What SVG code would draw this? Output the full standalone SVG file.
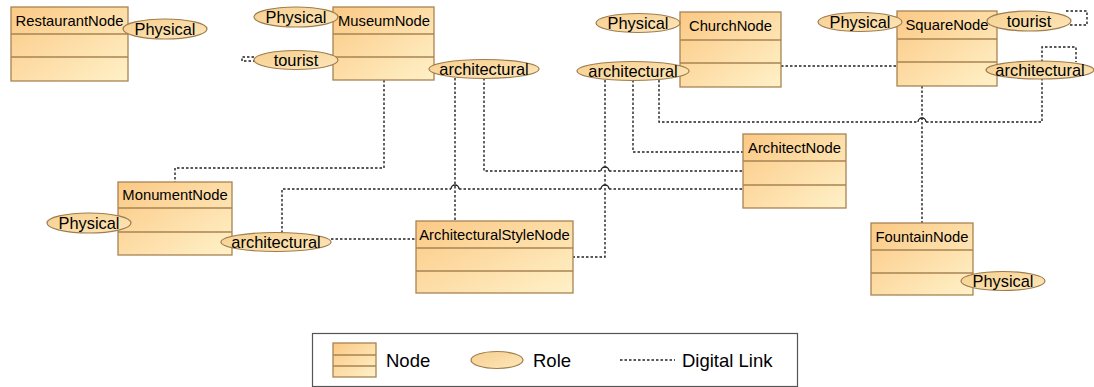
<svg xmlns="http://www.w3.org/2000/svg" width="1094" height="387" viewBox="0 0 1094 387">
  <defs>
    <linearGradient id="nodeFill" x1="0" y1="0" x2="1" y2="1">
      <stop offset="0" stop-color="#fbc985"/>
      <stop offset="1" stop-color="#fff1c8"/>
    </linearGradient>
    <linearGradient id="roleFill" x1="0" y1="0" x2="1" y2="1">
      <stop offset="0" stop-color="#f6cf8e"/>
      <stop offset="1" stop-color="#fde7bb"/>
    </linearGradient>
  </defs>
  <style>
    .box { fill: url(#nodeFill); stroke: #a88352; stroke-width: 1.3; }
    .div { stroke: #a88352; stroke-width: 1.3; }
    .role { fill: url(#roleFill); stroke: #9f7c4c; stroke-width: 1.2; }
    .name { font-family: "Liberation Sans", Arial, sans-serif; font-size: 14.8px; fill: #000; text-anchor: middle; }
    .rl { font-family: "Liberation Sans", Arial, sans-serif; font-size: 16.4px; fill: #000; text-anchor: middle; }
    .lg { font-family: "Liberation Sans", Arial, sans-serif; font-size: 18.5px; fill: #000; }
    .link { fill: none; stroke: #222; stroke-width: 1.4; stroke-dasharray: 2.5 2; }
    .hop { fill: none; stroke: #222; stroke-width: 1.3; }
  </style>
  <rect width="1094" height="387" fill="#ffffff"/>

  <!-- digital links -->
  <g id="connectors">
    <!-- tourist self loops -->
    <path class="link" d="M254,57 H242 V61 H254"/>
    <path class="link" d="M1066,11 H1087 V25 H1069"/>
    <path class="link" d="M1042,62 V47 H1076 V62"/>
    <!-- Museum to Monument -->
    <path class="link" d="M384,80 V168 H175 V182"/>
    <!-- Museum architectural to ArchitecturalStyleNode -->
    <path class="link" d="M455,78 V221"/>
    <!-- Museum architectural to ArchitectNode -->
    <path class="link" d="M484,78 V171 H601 M609,171 H743"/>
    <!-- Monument architectural to ArchitectNode -->
    <path class="link" d="M282,233 V189 H451 M459,189 H601 M609,189 H743"/>
    <!-- Monument architectural to ArchitecturalStyleNode -->
    <path class="link" d="M331,239 H416"/>
    <!-- Church architectural to ArchitecturalStyleNode -->
    <path class="link" d="M605,80 V257 H573"/>
    <!-- Church architectural to ArchitectNode -->
    <path class="link" d="M633,80 V152 H743"/>
    <!-- Church architectural to Square architectural -->
    <path class="link" d="M659,80 V122 H918 M926,122 H1042 V79"/>
    <!-- Church to Square -->
    <path class="link" d="M781,66 H897"/>
    <!-- Square to Fountain -->
    <path class="link" d="M922,86 V223"/>
    <!-- line jumps at crossings -->
    <path class="hop" d="M601,171 A4,4 0 0 1 609,171"/>
    <path class="hop" d="M451,189 A4,4 0 0 1 459,189"/>
    <path class="hop" d="M601,189 A4,4 0 0 1 609,189"/>
    <path class="hop" d="M918,122 A4,4 0 0 1 926,122"/>
  </g>

  <g id="RestaurantNode">
    <rect class="box" x="11" y="7" width="117" height="74"/>
    <line class="div" x1="11" y1="34" x2="128" y2="34"/>
    <line class="div" x1="11" y1="57" x2="128" y2="57"/>
    <text class="name" x="69.5" y="26">RestaurantNode</text>
    <ellipse class="role" cx="165" cy="29" rx="42" ry="10"/>
    <text class="rl" x="165" y="35">Physical</text>
  </g>

  <g id="MuseumNode">
    <rect class="box" x="333" y="7" width="101" height="73"/>
    <line class="div" x1="333" y1="34" x2="434" y2="34"/>
    <line class="div" x1="333" y1="57" x2="434" y2="57"/>
    <text class="name" x="384" y="26">MuseumNode</text>
    <ellipse class="role" cx="296" cy="17" rx="42" ry="10"/>
    <text class="rl" x="296" y="23">Physical</text>
    <ellipse class="role" cx="296" cy="60" rx="42" ry="9.5"/>
    <text class="rl" x="296" y="66">tourist</text>
    <ellipse class="role" cx="484" cy="69" rx="55" ry="9.5"/>
    <text class="rl" x="484" y="75">architectural</text>
  </g>

  <g id="ChurchNode">
    <rect class="box" x="680" y="12" width="101" height="75"/>
    <line class="div" x1="680" y1="40" x2="781" y2="40"/>
    <line class="div" x1="680" y1="63" x2="781" y2="63"/>
    <text class="name" x="730.5" y="31">ChurchNode</text>
    <ellipse class="role" cx="638" cy="23" rx="42" ry="9.5"/>
    <text class="rl" x="638" y="29">Physical</text>
    <ellipse class="role" cx="633" cy="71" rx="56" ry="9.5"/>
    <text class="rl" x="633" y="77">architectural</text>
  </g>

  <g id="SquareNode">
    <rect class="box" x="897" y="11" width="100" height="75"/>
    <line class="div" x1="897" y1="39" x2="997" y2="39"/>
    <line class="div" x1="897" y1="62" x2="997" y2="62"/>
    <text class="name" x="947" y="30">SquareNode</text>
    <ellipse class="role" cx="860" cy="22" rx="42" ry="9.5"/>
    <text class="rl" x="860" y="28">Physical</text>
    <ellipse class="role" cx="1029" cy="21" rx="42" ry="10"/>
    <text class="rl" x="1029" y="27">tourist</text>
    <ellipse class="role" cx="1040" cy="70" rx="54" ry="9"/>
    <text class="rl" x="1040" y="76">architectural</text>
  </g>

  <g id="ArchitectNode">
    <rect class="box" x="743" y="134" width="103" height="74"/>
    <line class="div" x1="743" y1="161" x2="846" y2="161"/>
    <line class="div" x1="743" y1="185" x2="846" y2="185"/>
    <text class="name" x="794.5" y="153">ArchitectNode</text>
  </g>

  <g id="MonumentNode">
    <rect class="box" x="118" y="182" width="114" height="73"/>
    <line class="div" x1="118" y1="208" x2="232" y2="208"/>
    <line class="div" x1="118" y1="232" x2="232" y2="232"/>
    <text class="name" x="175" y="200">MonumentNode</text>
    <ellipse class="role" cx="89" cy="223" rx="42" ry="10"/>
    <text class="rl" x="89" y="229">Physical</text>
    <ellipse class="role" cx="276" cy="242" rx="55" ry="9.5"/>
    <text class="rl" x="276" y="248">architectural</text>
  </g>

  <g id="ArchitecturalStyleNode">
    <rect class="box" x="416" y="221" width="157" height="72"/>
    <line class="div" x1="416" y1="248" x2="573" y2="248"/>
    <line class="div" x1="416" y1="271" x2="573" y2="271"/>
    <text class="name" x="494.5" y="240">ArchitecturalStyleNode</text>
  </g>

  <g id="FountainNode">
    <rect class="box" x="871" y="223" width="102" height="72"/>
    <line class="div" x1="871" y1="250" x2="973" y2="250"/>
    <line class="div" x1="871" y1="273" x2="973" y2="273"/>
    <text class="name" x="922" y="242">FountainNode</text>
    <ellipse class="role" cx="1003" cy="281" rx="42" ry="9.5"/>
    <text class="rl" x="1003" y="287">Physical</text>
  </g>

  <g id="legend">
    <rect x="312.5" y="333.5" width="485" height="53" fill="#ffffff" stroke="#555" stroke-width="1.2"/>
    <rect class="box" x="333" y="343" width="43" height="34"/>
    <line class="div" x1="333" y1="355" x2="376" y2="355"/>
    <line class="div" x1="333" y1="366" x2="376" y2="366"/>
    <text class="lg" x="386" y="366.5">Node</text>
    <ellipse class="role" cx="497" cy="360" rx="26" ry="8.5"/>
    <text class="lg" x="533" y="366.5">Role</text>
    <line class="link" x1="620" y1="360" x2="675" y2="360"/>
    <text class="lg" x="682" y="366.5">Digital Link</text>
  </g>
</svg>
